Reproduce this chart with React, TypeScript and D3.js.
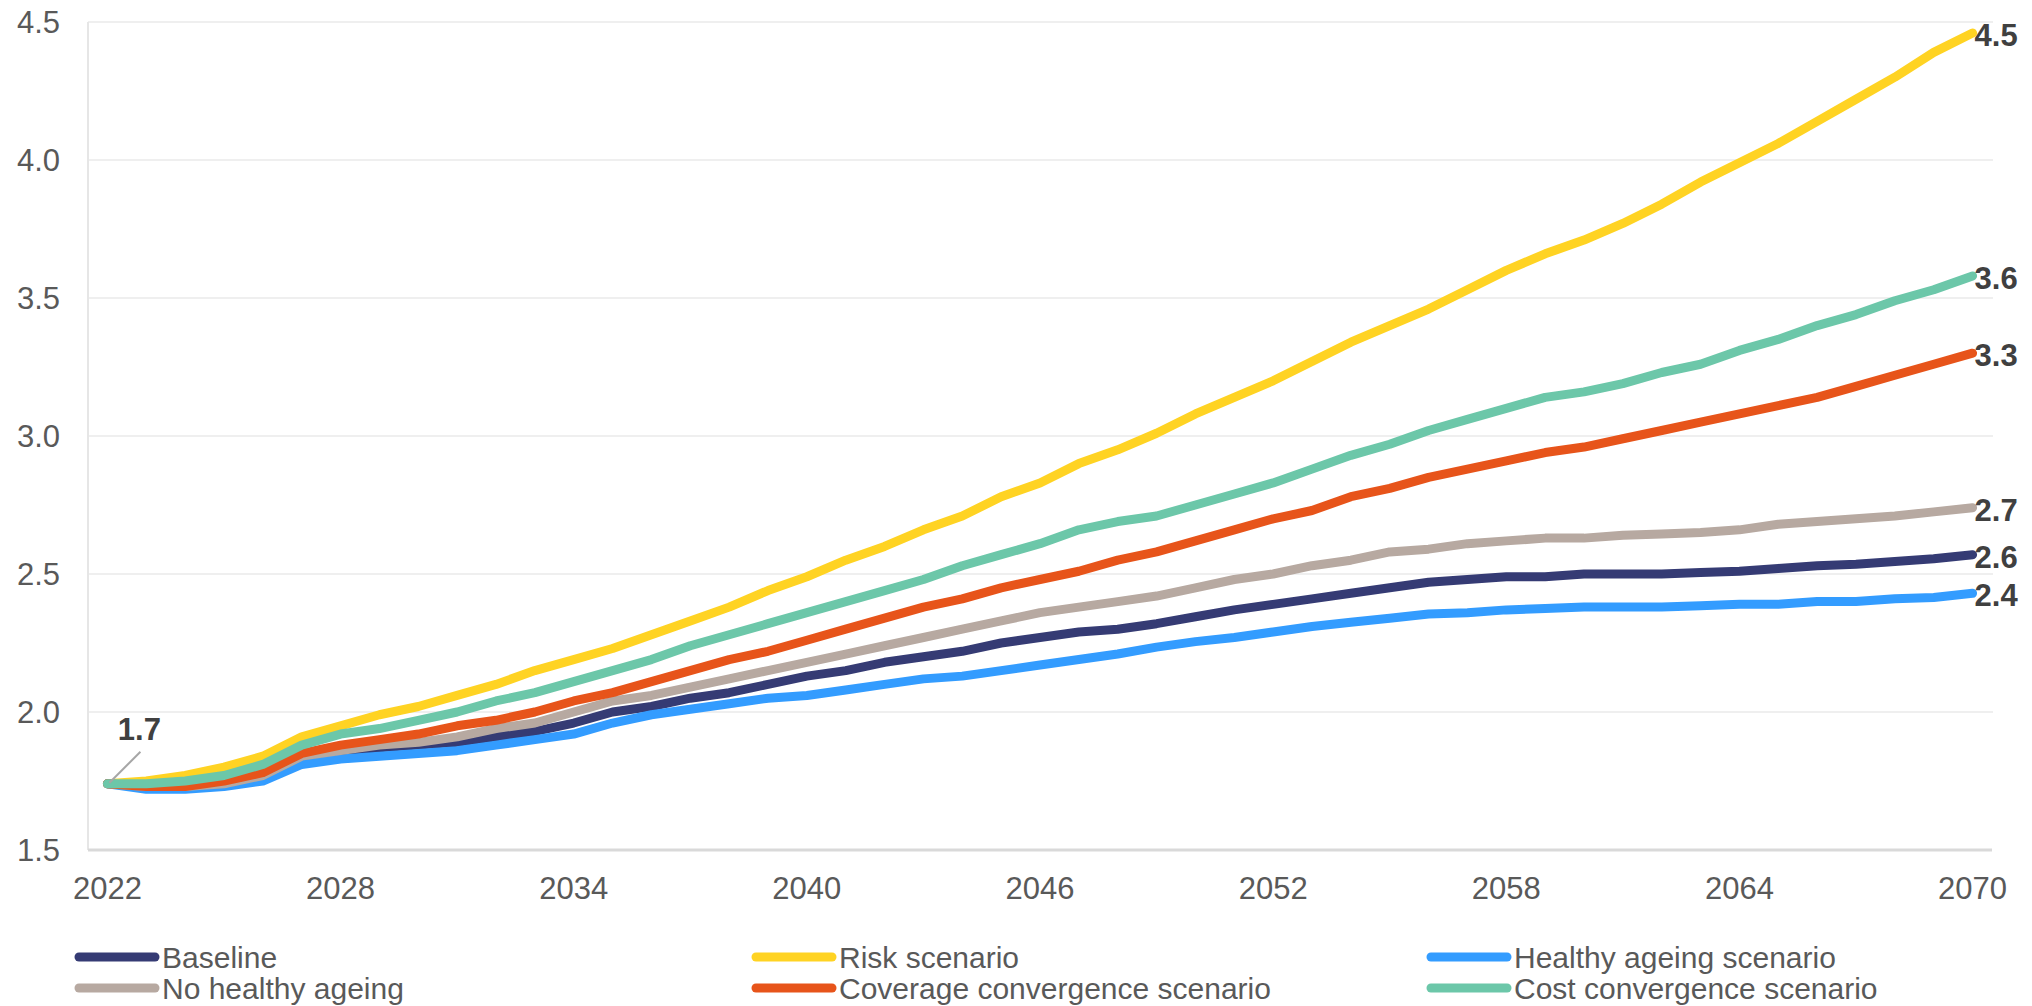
import React from "react";
import * as d3 from "d3";

const years: number[] = d3.range(2022, 2071);

const baseline = [
  1.74, 1.73, 1.73, 1.74, 1.76, 1.83, 1.855, 1.87, 1.88, 1.89, 1.91, 1.93, 1.96,
  2.0, 2.02, 2.05, 2.07, 2.1, 2.13, 2.15, 2.18, 2.2, 2.22, 2.25, 2.27, 2.29,
  2.3, 2.32, 2.345, 2.37, 2.39, 2.41, 2.43, 2.45, 2.47, 2.48, 2.49, 2.49, 2.5,
  2.5, 2.5, 2.505, 2.51, 2.52, 2.53, 2.535, 2.545, 2.555, 2.57,
];
const riskScenario = [
  1.74, 1.75, 1.77, 1.8, 1.84, 1.91, 1.95, 1.99, 2.02, 2.06, 2.1, 2.15, 2.19,
  2.23, 2.28, 2.33, 2.38, 2.44, 2.49, 2.55, 2.6, 2.66, 2.71, 2.78, 2.83, 2.9,
  2.95, 3.01, 3.08, 3.14, 3.2, 3.27, 3.34, 3.4, 3.46, 3.53, 3.6, 3.66, 3.71,
  3.77, 3.84, 3.92, 3.99, 4.06, 4.14, 4.22, 4.3, 4.39, 4.46,
];
const healthyAgeing = [
  1.74, 1.72, 1.72, 1.73, 1.75, 1.81, 1.83, 1.84, 1.85, 1.86, 1.88, 1.9, 1.92,
  1.96, 1.99, 2.01, 2.03, 2.05, 2.06, 2.08, 2.1, 2.12, 2.13, 2.15, 2.17, 2.19,
  2.21, 2.235, 2.255, 2.27, 2.29, 2.31, 2.325, 2.34, 2.355, 2.36, 2.37, 2.375, 2.38,
  2.38, 2.38, 2.385, 2.39, 2.39, 2.4, 2.4, 2.41, 2.415, 2.43,
];
const noHealthyAgeing = [
  1.74, 1.73, 1.73, 1.74, 1.77, 1.84, 1.86, 1.88, 1.89, 1.91, 1.94, 1.96, 2.0,
  2.04, 2.06, 2.09, 2.12, 2.15, 2.18, 2.21, 2.24, 2.27, 2.3, 2.33, 2.36, 2.38,
  2.4, 2.42, 2.45, 2.48, 2.5, 2.53, 2.55, 2.58, 2.59, 2.61, 2.62, 2.63, 2.63,
  2.64, 2.645, 2.65, 2.66, 2.68, 2.69, 2.7, 2.71, 2.725, 2.74,
];
const coverageConvergence = [
  1.74, 1.73, 1.73, 1.75, 1.78, 1.85, 1.88, 1.9, 1.92, 1.95, 1.97, 2.0, 2.04,
  2.07, 2.11, 2.15, 2.19, 2.22, 2.26, 2.3, 2.34, 2.38, 2.41, 2.45, 2.48, 2.51,
  2.55, 2.58, 2.62, 2.66, 2.7, 2.73, 2.78, 2.81, 2.85, 2.88, 2.91, 2.94, 2.96,
  2.99, 3.02, 3.05, 3.08, 3.11, 3.14, 3.18, 3.22, 3.26, 3.3,
];
const costConvergence = [
  1.74, 1.74, 1.75, 1.77, 1.81, 1.88, 1.92, 1.94, 1.97, 2.0, 2.04, 2.07, 2.11,
  2.15, 2.19, 2.24, 2.28, 2.32, 2.36, 2.4, 2.44, 2.48, 2.53, 2.57, 2.61, 2.66,
  2.69, 2.71, 2.75, 2.79, 2.83, 2.88, 2.93, 2.97, 3.02, 3.06, 3.1, 3.14, 3.16,
  3.19, 3.23, 3.26, 3.31, 3.35, 3.4, 3.44, 3.49, 3.53, 3.58,
];

const seriesNames = [
  "Baseline",
  "Risk scenario",
  "Healthy ageing scenario",
  "No healthy ageing",
  "Coverage convergence scenario",
  "Cost convergence scenario",
];
const seriesValues = [
  baseline,
  riskScenario,
  healthyAgeing,
  noHealthyAgeing,
  coverageConvergence,
  costConvergence,
];
const seriesColors = ["#353B74", "#FFD323", "#339CFF", "#B7A9A1", "#E7541A", "#6CC7A9"];
const endLabels = ["2.6", "4.5", "2.4", "2.7", "3.3", "3.6"];
const startLabel = "1.7";

const yTicks = [1.5, 2.0, 2.5, 3.0, 3.5, 4.0, 4.5];
const xTickYears = [2022, 2028, 2034, 2040, 2046, 2052, 2058, 2064, 2070];

const W = 2032;
const H = 1006;
const FONT = "'Liberation Sans', Arial, sans-serif";

export default function App() {
  const left = 88;
  const right = 1992;
  const top = 22;
  const bottom = 850;

  const x = d3.scalePoint<number>().domain(years).range([left, right]).padding(0.5);
  const y = d3.scaleLinear().domain([1.5, 4.5]).range([bottom, top]);

  const line = d3
    .line<number>()
    .x((_, i) => x(years[i]) as number)
    .y((d) => y(d));

  const legendCols = [75, 752, 1427];
  const legendRows = [957, 988];

  const x0 = x(years[0]) as number;
  const y0 = y(baseline[0]);

  return (
    <svg
      width={W}
      height={H}
      style={{ position: "absolute", left: 0, top: 0, background: "#fff" }}
      fontFamily={FONT}
    >
      {/* gridlines */}
      {yTicks.slice(1).map((t) => (
        <line key={t} x1={left} x2={right + 1} y1={y(t)} y2={y(t)} stroke="#EFEFEF" strokeWidth={2} />
      ))}
      {/* left axis */}
      <line x1={left} x2={left} y1={top} y2={bottom} stroke="#E6E6E6" strokeWidth={2} />
      {/* bottom axis */}
      <line x1={left} x2={right} y1={bottom} y2={bottom} stroke="#D9D9D9" strokeWidth={3} />

      {/* y tick labels */}
      {yTicks.map((t) => (
        <text key={t} x={60} y={y(t)} dy="0.36em" textAnchor="end" fontSize={31} fill="#595959">
          {t.toFixed(1)}
        </text>
      ))}
      {/* x tick labels */}
      {xTickYears.map((yr) => (
        <text key={yr} x={x(yr) as number} y={899} textAnchor="middle" fontSize={31} fill="#595959">
          {yr}
        </text>
      ))}

      {/* series lines */}
      {seriesValues.map((vals, i) => (
        <path
          key={seriesNames[i]}
          d={line(vals) || ""}
          fill="none"
          stroke={seriesColors[i]}
          strokeWidth={9}
          strokeLinejoin="round"
          strokeLinecap="round"
        />
      ))}

      {/* end labels */}
      {seriesValues.map((vals, i) => (
        <text
          key={"end" + i}
          x={(x(years[years.length - 1]) as number) + 2}
          y={y(vals[vals.length - 1]) + 2}
          dy="0.36em"
          fontSize={31}
          fontWeight="bold"
          fill="#404040"
        >
          {endLabels[i]}
        </text>
      ))}

      {/* start label with leader */}
      <line x1={x0 + 2} y1={y0 - 1} x2={x0 + 33} y2={y0 - 32} stroke="#A6A6A6" strokeWidth={2} />
      <text x={x0 + 32} y={y0 - 55} dy="0.36em" textAnchor="middle" fontSize={31} fontWeight="bold" fill="#404040">
        {startLabel}
      </text>

      {/* legend */}
      {seriesNames.map((name, i) => {
        const cx = legendCols[i % 3];
        const cy = legendRows[Math.floor(i / 3)];
        return (
          <g key={"lg" + i}>
            <line
              x1={cx + 4}
              x2={cx + 80}
              y1={cy}
              y2={cy}
              stroke={seriesColors[i]}
              strokeWidth={9}
              strokeLinecap="round"
            />
            <text x={cx + 87} y={cy} dy="0.35em" fontSize={30} fill="#595959">
              {name}
            </text>
          </g>
        );
      })}
    </svg>
  );
}
